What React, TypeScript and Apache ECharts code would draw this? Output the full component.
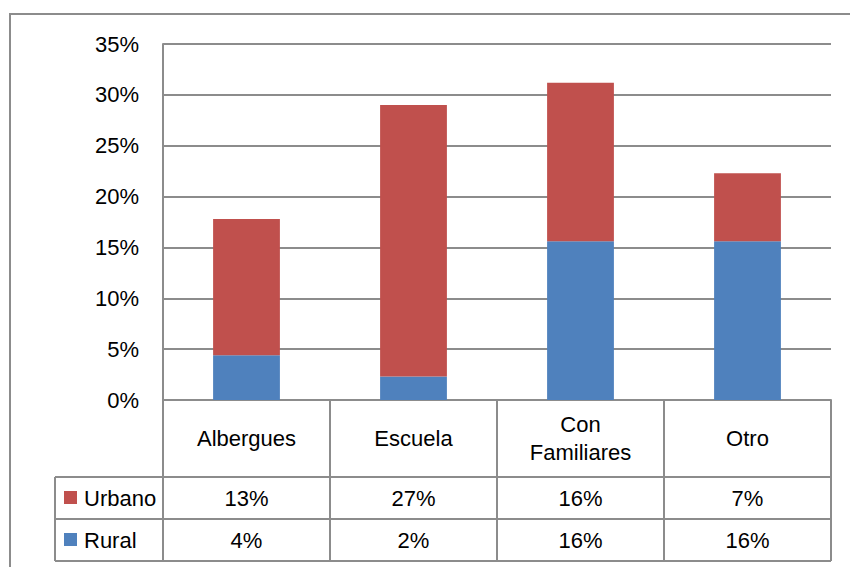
import React, { useEffect, useRef } from "react";
import * as echarts from "echarts";

const categories = ["Albergues", "Escuela", "Con\nFamiliares", "Otro"];
const seriesNames = ["Urbano", "Rural"];
const urbano = [13.4, 26.7, 15.6, 6.7];
const rural = [4.4, 2.3, 15.6, 15.6];
const yMin = 0;
const yMax = 35;
const yStep = 5;

const RED = "#C0504D";
const BLUE = "#4F81BD";
const LINE = "#8c8c8c";
const FONT = '"Liberation Sans Narrow", "Arial Narrow", "Liberation Sans", Arial, sans-serif';

const W = 850;
const H = 567;
const GL = 163;
const GR = 831;
const GT = 44;
const GB = 400;
const ROW1 = 477;
const ROW2 = 519;
const ROW3 = 561;
const LEG_X = 55;

export default function App() {
  const ref = useRef<HTMLDivElement>(null);
  useEffect(() => {
    if (!ref.current) return;
    const chart = echarts.init(ref.current, null, { renderer: "svg", width: W, height: H });
    const n = categories.length;
    const cw = (GR - GL) / n;
    const graphic: any[] = [];
    const line = (x1: number, y1: number, x2: number, y2: number) => ({
      type: "line",
      shape: { x1, y1, x2, y2 },
      style: { stroke: LINE, lineWidth: 2 },
      silent: true,
    });
    const txt = (text: string, x: number, y: number, align = "center") => ({
      type: "text",
      x,
      y,
      style: {
        text,
        fill: "#000",
        fontSize: 22,
        fontFamily: FONT,
        align,
        verticalAlign: "middle",
        lineHeight: 28,
      },
      silent: true,
    });
    // outer border
    graphic.push({
      type: "rect",
      shape: { x: 10, y: 14, width: 900, height: 700 },
      style: { fill: "none", stroke: LINE, lineWidth: 2 },
      silent: true,
    });
    // table vertical lines
    for (let i = 0; i <= n; i++) {
      const x = GL + i * cw;
      graphic.push(line(x, GB, x, ROW3));
    }
    graphic.push(line(LEG_X, ROW1, LEG_X, ROW3));
    [ROW1, ROW2, ROW3].forEach((y) => graphic.push(line(LEG_X, y, GR, y)));
    // header labels
    categories.forEach((c, i) => {
      graphic.push(txt(c, GL + (i + 0.5) * cw, (GB + ROW1) / 2));
    });
    const rows = [urbano, rural];
    const colors = [RED, BLUE];
    const rowTops = [ROW1, ROW2];
    rows.forEach((vals, r) => {
      const yc = (rowTops[r] + rowTops[r] + 42) / 2;
      graphic.push({
        type: "rect",
        shape: { x: 64, y: yc - 7, width: 13, height: 13 },
        style: { fill: colors[r] },
        silent: true,
      });
      graphic.push(txt(seriesNames[r], 84, yc, "left"));
      vals.forEach((v, i) => {
        graphic.push(txt(Math.round(v) + "%", GL + (i + 0.5) * cw, yc));
      });
    });

    chart.setOption({
      animation: false,
      backgroundColor: "#fff",
      grid: { left: GL, right: W - GR, top: GT, bottom: H - GB, containLabel: false },
      xAxis: {
        type: "category",
        data: categories,
        axisLine: { show: true, lineStyle: { color: LINE, width: 2 } },
        axisTick: { show: false },
        axisLabel: { show: false },
      },
      yAxis: {
        type: "value",
        min: yMin,
        max: yMax,
        interval: yStep,
        axisLine: { show: true, lineStyle: { color: LINE, width: 2 } },
        axisTick: { show: false },
        splitLine: { lineStyle: { color: LINE, width: 2 } },
        axisLabel: {
          formatter: (v: number) => v + "%",
          color: "#000",
          fontSize: 22,
          fontFamily: FONT,
          margin: 24,
        },
      },
      series: [
        {
          name: "Rural",
          type: "bar",
          stack: "total",
          data: rural,
          barWidth: "40%",
          itemStyle: { color: BLUE },
        },
        {
          name: "Urbano",
          type: "bar",
          stack: "total",
          data: urbano,
          barWidth: "40%",
          itemStyle: { color: RED },
        },
      ],
      graphic,
    });
    return () => chart.dispose();
  }, []);
  return (
    <div
      ref={ref}
      style={{ position: "fixed", left: 0, top: 0, width: W, height: H, background: "#fff" }}
    />
  );
}
